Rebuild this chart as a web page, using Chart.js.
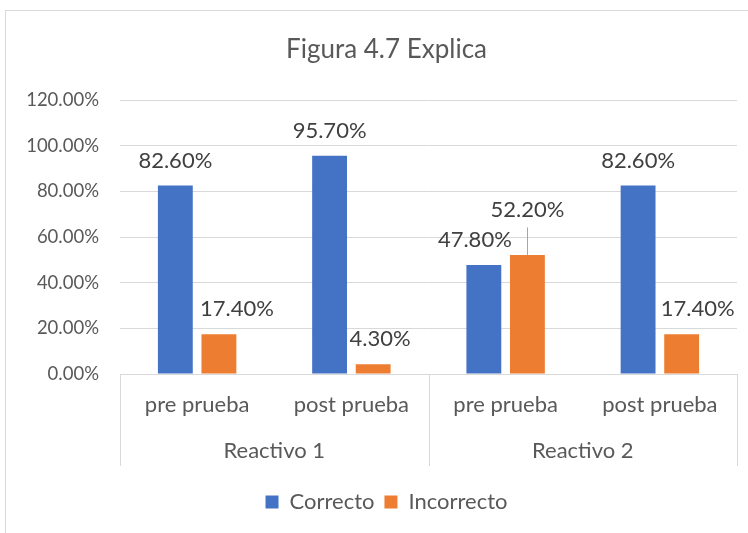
<!DOCTYPE html>
<html><head><meta charset="utf-8">
<script src="https://cdn.jsdelivr.net/npm/chart.js@4.4.0/dist/chart.umd.min.js"></script>
<style>
html,body{margin:0;padding:0;background:#fff;width:748px;height:533px;overflow:hidden;}
#frame{position:absolute;left:5px;top:10px;width:800px;height:600px;border:1px solid #d9d9d9;box-sizing:border-box;}
#c{position:absolute;left:0;top:0;}
</style></head><body>
<div id="frame"></div>
<canvas id="c" width="748" height="533"></canvas>
<script>
// ---- data ----
const titleText = 'Figura 4.7 Explica';
const categories = ['pre prueba', 'post prueba', 'pre prueba', 'post prueba'];
const groups = ['Reactivo 1', 'Reactivo 2'];
const groupSizes = [2, 2];
const seriesNames = ['Correcto', 'Incorrecto'];
const correcto = [82.6, 95.7, 47.8, 82.6];
const incorrecto = [17.4, 4.3, 52.2, 17.4];
const yTicks = [0, 20, 40, 60, 80, 100, 120];

// ---- style ----
const FONT = 'Lato';
const AXIS_TEXT = '#595959';
const LABEL_TEXT = '#404040';
const LINE = '#d9d9d9';
const labelNudge = [
  [[0, 0], [0, 0], [-9, 0], [0, 0]],
  [[18, 0], [7, 0], [0, -20], [16, 0]]
];

const dataLabels = {
  id: 'dataLabels',
  afterDatasetsDraw(chart) {
    const ctx = chart.ctx;
    ctx.save();
    ctx.font = '22px ' + FONT;
    ctx.textAlign = 'center';
    ctx.textBaseline = 'middle';
    chart.data.datasets.forEach((ds, i) => {
      const meta = chart.getDatasetMeta(i);
      meta.data.forEach((el, j) => {
        const [dx, dy] = labelNudge[i][j];
        const x = el.x + dx, y = el.y - 25 + dy;
        ctx.fillStyle = LABEL_TEXT;
        ctx.fillText(ds.data[j].toFixed(2) + '%', x, y);
        if (dy < -10) {
          ctx.strokeStyle = '#a6a6a6';
          ctx.lineWidth = 1;
          ctx.beginPath();
          ctx.moveTo(Math.round(el.x) + 0.5, y + 17.5);
          ctx.lineTo(Math.round(el.x) + 0.5, el.y);
          ctx.stroke();
        }
      });
    });
    ctx.restore();
  }
};

const groupAxis = {
  id: 'groupAxis',
  afterDraw(chart) {
    const xs = chart.scales.x, ctx = chart.ctx;
    const top = chart.chartArea.bottom;
    const bottom = top + 92;
    const half = (xs.getPixelForValue(1) - xs.getPixelForValue(0)) / 2;
    const bounds = [xs.getPixelForValue(0) - half];
    let idx = 0;
    groupSizes.forEach(n => { idx += n; bounds.push(xs.getPixelForValue(idx - 1) + half); });
    ctx.save();
    ctx.strokeStyle = LINE;
    ctx.lineWidth = 1;
    bounds.forEach(b => {
      const px = Math.round(b) + 0.5;
      ctx.beginPath();
      ctx.moveTo(px, top);
      ctx.lineTo(px, bottom);
      ctx.stroke();
    });
    ctx.font = '22px ' + FONT;
    ctx.fillStyle = AXIS_TEXT;
    ctx.textAlign = 'center';
    ctx.textBaseline = 'middle';
    groups.forEach((g, k) => {
      ctx.fillText(g, (bounds[k] + bounds[k + 1]) / 2, bottom - 15);
    });
    ctx.restore();
  }
};

new Chart(document.getElementById('c'), {
  type: 'bar',
  data: {
    labels: categories,
    datasets: [
      { label: seriesNames[0], data: correcto, backgroundColor: '#4472C4', yAxisID: 'y' },
      { label: seriesNames[1], data: incorrecto, backgroundColor: '#ED7D31', yAxisID: 'y' }
    ]
  },
  options: {
    responsive: false,
    animation: false,
    devicePixelRatio: 1,
    categoryPercentage: 0.565,
    barPercentage: 0.8,
    layout: { padding: { left: 25, right: 0, top: 0, bottom: 10 } },
    plugins: {
      title: {
        display: true, text: titleText, color: AXIS_TEXT,
        font: { family: FONT, size: 26, weight: 'normal' },
        padding: { top: 34, bottom: 35 }
      },
      legend: {
        position: 'bottom',
        labels: {
          color: AXIS_TEXT, font: { family: FONT, size: 22 },
          boxWidth: 13, boxHeight: 13, padding: 10
        }
      },
      tooltip: { enabled: false }
    },
    scales: {
      x: {
        grid: { display: false, drawTicks: false },
        border: { display: true, color: LINE },
        ticks: { color: AXIS_TEXT, font: { family: FONT, size: 22 }, padding: 18, maxRotation: 0 },
        afterFit(s) { s.height = 107; }
      },
      y: {
        min: 0, max: 120,
        afterBuildTicks(s) { s.ticks = yTicks.map(v => ({ value: v })); },
        grid: { color: LINE, drawTicks: false },
        border: { display: false },
        ticks: { color: AXIS_TEXT, font: { family: FONT, size: 18.5 }, padding: 21,
          callback: v => Number(v).toFixed(2) + '%' },
        afterFit(s) { s.width = 95; }
      },
      y2: {
        position: 'right', display: true,
        grid: { display: false }, border: { display: false },
        ticks: { display: false },
        afterFit(s) { s.width = 11; }
      }
    }
  },
  plugins: [dataLabels, groupAxis]
});
</script>
</body></html>
